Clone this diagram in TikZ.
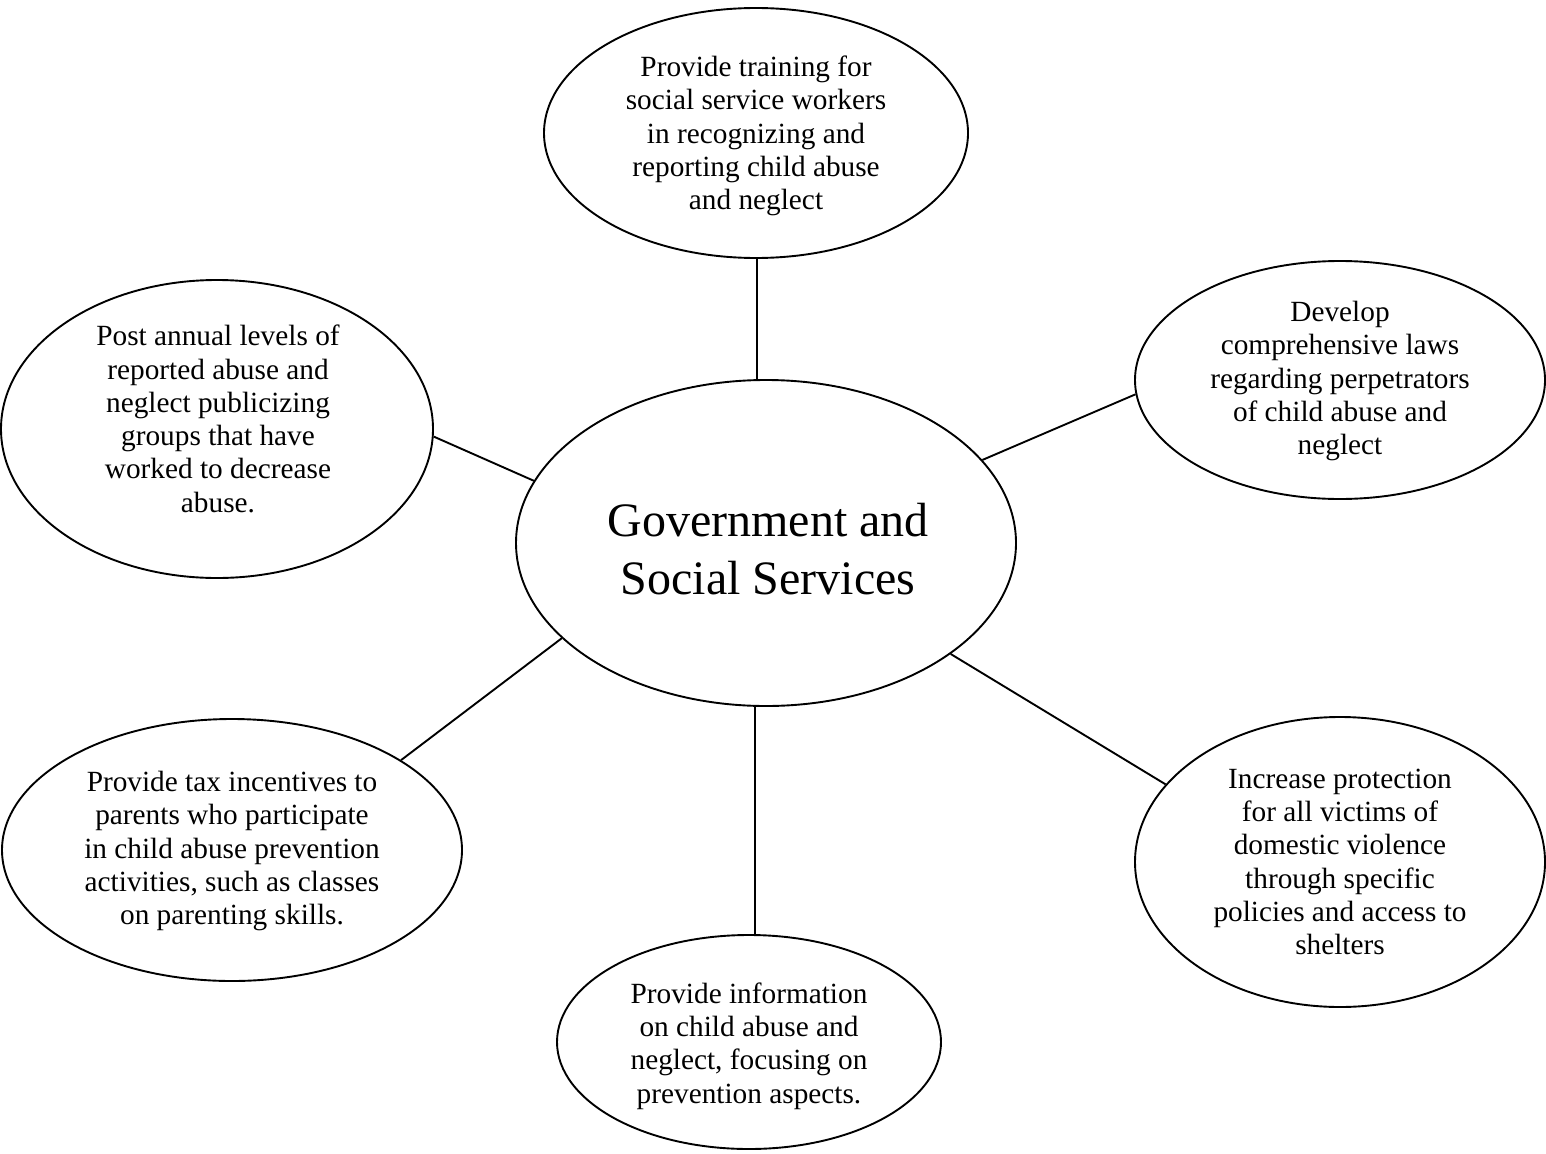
\documentclass[tikz,border=0pt]{standalone}
\usepackage{fontspec}
\setmainfont{Liberation Serif}
\usetikzlibrary{shapes.geometric}
\begin{document}
\begin{tikzpicture}[x=1pt,y=-1pt,
  bubble/.style={draw,ellipse,line width=1.9pt,inner sep=0pt},
  txt/.style={align=center,inner sep=0pt,font=\fontsize{29.3}{33.25}\selectfont},
  big/.style={align=center,inner sep=0pt,font=\fontsize{48}{58}\selectfont},
  link/.style={line width=1.9pt}]
\useasboundingbox (0,0) rectangle (1546,1153);
\node[bubble,minimum width=500pt,minimum height=326pt] (c) at (766,543) {};
\node[bubble,minimum width=424pt,minimum height=250pt] (t) at (756,133) {};
\node[bubble,minimum width=410pt,minimum height=238pt] (rt) at (1340,380) {};
\node[bubble,minimum width=432pt,minimum height=298pt] (lt) at (217,429) {};
\node[bubble,minimum width=460pt,minimum height=262pt] (lb) at (232,850) {};
\node[bubble,minimum width=410pt,minimum height=290pt] (rb) at (1340,862) {};
\node[bubble,minimum width=384pt,minimum height=214pt] (b) at (749,1042) {};
\node[big] (ct) at (768,549) {Government and\\Social Services};
\node[txt] (tt) at (756,136) {Provide training for\\social service workers\\in recognizing and\\reporting child abuse\\and neglect};
\node[txt] (rtt) at (1340,381) {Develop\\comprehensive laws\\regarding perpetrators\\of child abuse and\\neglect};
\node[txt] (ltt) at (218,419) {Post annual levels of\\reported abuse and\\neglect publicizing\\groups that have\\worked to decrease\\abuse.};
\node[txt] (lbt) at (232,851) {Provide tax incentives to\\parents who participate\\in child abuse prevention\\activities, such as classes\\on parenting skills.};
\node[txt] (rbt) at (1340,862) {Increase protection\\for all victims of\\domestic violence\\through specific\\policies and access to\\shelters};
\node[txt] (bt) at (749,1046) {Provide information\\on child abuse and\\neglect, focusing on\\prevention aspects.};
\draw[link] (c.93.5) -- (c.93.5 |- t.south);
\draw[link] (c.266.2) -- (c.266.2 |- b.north);
\draw[link] (c.165) -- (lt.-2.6);
\draw[link] (c.21.2) -- (rt.184.2);
\draw[link] (c.205.5) -- (lb.28.7);
\draw[link] (c.-31.8) -- (rb.156.8);
\end{tikzpicture}
\end{document}
